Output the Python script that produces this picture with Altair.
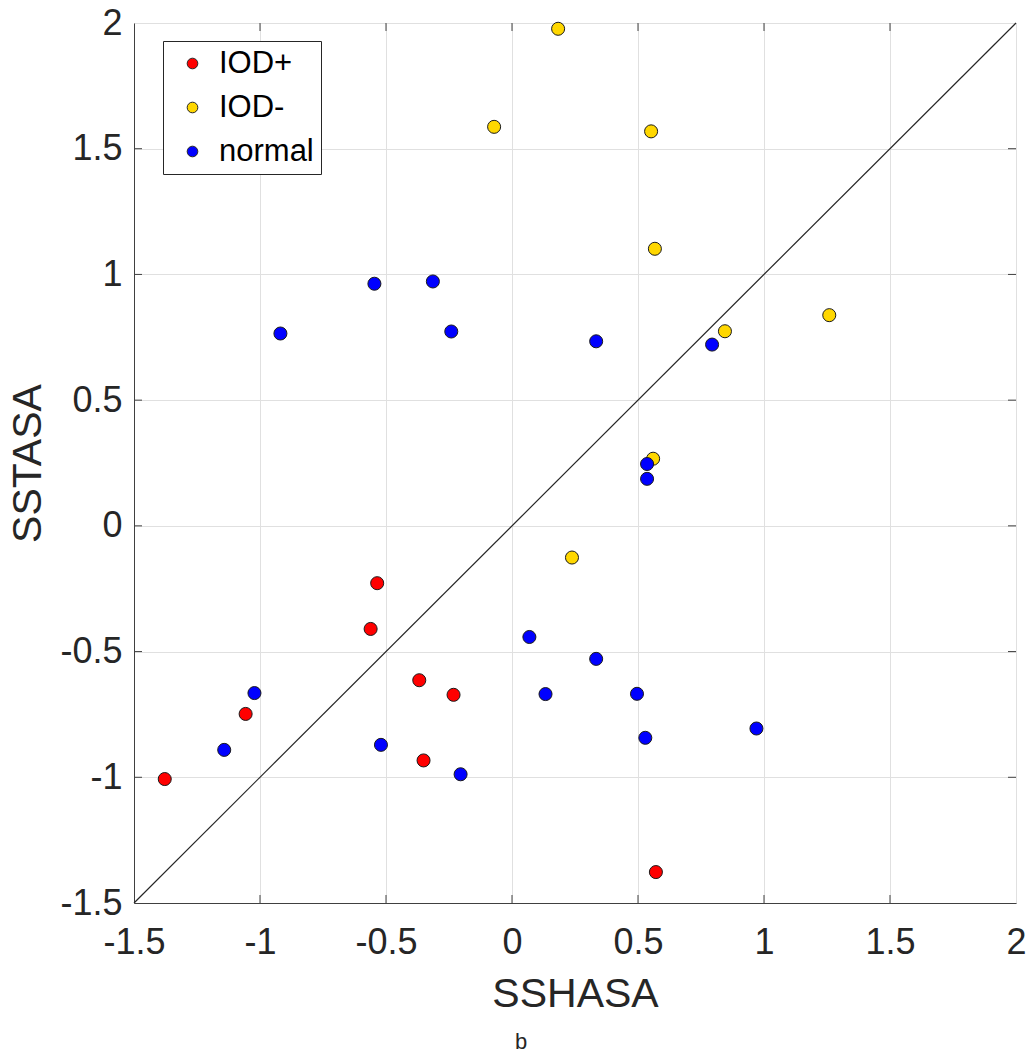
import altair as alt
import pandas as pd

# ---- data ----
groups = ["IOD+", "IOD-", "normal"]
group_colors = ["#ff0000", "#ffd700", "#0000ff"]

iod_pos_x = [-1.378, -1.057, -0.561, -0.535, -0.368, -0.351, -0.232, 0.571]
iod_pos_y = [-1.007, -0.748, -0.410, -0.228, -0.614, -0.933, -0.672, -1.377]

iod_neg_x = [0.183, -0.071, 0.552, 0.567, 1.259, 0.845, 0.560, 0.238]
iod_neg_y = [1.977, 1.587, 1.569, 1.102, 0.838, 0.774, 0.267, -0.126]

normal_x = [-0.546, -0.314, -0.919, -0.241, 0.794, 0.334, 0.536, 0.536, 0.069,
            0.334, 0.133, 0.496, 0.529, 0.970, -1.022, -1.142, -0.520, -0.204]
normal_y = [0.963, 0.972, 0.765, 0.773, 0.721, 0.734, 0.246, 0.187, -0.442,
            -0.529, -0.669, -0.668, -0.843, -0.806, -0.665, -0.891, -0.871, -0.988]

tick_values = [-1.5, -1, -0.5, 0, 0.5, 1, 1.5, 2]
inner_ticks = [-1, -0.5, 0, 0.5, 1, 1.5]
diag = [-1.5, 2]
axis_range = [-1.5, 2]

rows = []
for g, xs, ys in [("IOD+", iod_pos_x, iod_pos_y),
                  ("IOD-", iod_neg_x, iod_neg_y),
                  ("normal", normal_x, normal_y)]:
    for xv, yv in zip(xs, ys):
        rows.append({"x": xv, "y": yv, "group": g})
df = pd.DataFrame(rows)
df_diag = pd.DataFrame({"x": diag, "y": diag})
df_ticks = pd.DataFrame({"t": inner_ticks})

W, H = 882, 880
FONT = "Liberation Sans"
TXT = "#262626"

xs = alt.Scale(domain=axis_range, nice=False, zero=False)
ys = alt.Scale(domain=axis_range, nice=False, zero=False)

x_axis = alt.Axis(values=tick_values, title="SSHASA", labelExpr="'' + datum.value",
                  labelFont=FONT, labelFontSize=36, labelColor=TXT,
                  labelFlush=False, labelOverlap=False, labelPadding=22,
                  ticks=False, tickSize=0,
                  titleFont=FONT, titleFontSize=41, titleFontWeight="normal",
                  titleColor=TXT, titleBaseline="alphabetic", titleY=103,
                  gridColor="#e0e0e0", gridWidth=1,
                  domainColor="#404040", domainWidth=1)
y_axis = alt.Axis(values=tick_values, title="SSTASA", labelExpr="'' + datum.value",
                  labelFont=FONT, labelFontSize=36, labelColor=TXT,
                  labelFlush=False, labelOverlap=False, labelPadding=12,
                  labelBaseline="middle",
                  ticks=False, tickSize=0,
                  titleFont=FONT, titleFontSize=41, titleFontWeight="normal",
                  titleColor=TXT, titleAngle=270, titleBaseline="middle",
                  titleAlign="center", titleX=-106, titleY=440,
                  gridColor="#e0e0e0", gridWidth=1,
                  domainColor="#404040", domainWidth=1)

base_axes = alt.Chart(df).mark_point(opacity=0).encode(
    x=alt.X("x:Q", scale=xs, axis=x_axis),
    y=alt.Y("y:Q", scale=ys, axis=y_axis),
)

diag_line = alt.Chart(df_diag).mark_line(color="#262626", strokeWidth=1.2).encode(
    x=alt.X("x:Q", scale=xs), y=alt.Y("y:Q", scale=ys)
)

tick_color = "#404040"
tb = alt.Chart(df_ticks).mark_rule(color=tick_color, strokeWidth=1).encode(
    x=alt.X("t:Q", scale=xs), y=alt.value(H), y2=alt.value(H - 8))
tt = alt.Chart(df_ticks).mark_rule(color=tick_color, strokeWidth=1).encode(
    x=alt.X("t:Q", scale=xs), y=alt.value(0), y2=alt.value(8))
tl = alt.Chart(df_ticks).mark_rule(color=tick_color, strokeWidth=1).encode(
    y=alt.Y("t:Q", scale=ys), x=alt.value(0), x2=alt.value(8))
tr = alt.Chart(df_ticks).mark_rule(color=tick_color, strokeWidth=1).encode(
    y=alt.Y("t:Q", scale=ys), x=alt.value(W), x2=alt.value(W - 8))

points = alt.Chart(df).mark_circle(size=170, opacity=1, stroke="#1a1a1a",
                                   strokeWidth=1).encode(
    x=alt.X("x:Q", scale=xs),
    y=alt.Y("y:Q", scale=ys),
    color=alt.Color("group:N",
                    scale=alt.Scale(domain=groups, range=group_colors),
                    legend=alt.Legend(
                        title=None, orient="none", legendX=29, legendY=18,
                        direction="vertical",
                        fillColor="white", strokeColor="#262626",
                        padding=7, symbolOffset=7, labelOffset=11,
                        rowPadding=12, symbolType="circle", symbolSize=113,
                        symbolStrokeColor="#262626", symbolStrokeWidth=1,
                        symbolOpacity=1,
                        labelFont=FONT, labelFontSize=31, labelColor="black")),
)

chart = alt.layer(base_axes, diag_line, tb, tt, tl, tr, points).properties(
    width=W, height=H,
    autosize=alt.AutoSizeParams(type="none"),
    padding={"left": 134, "top": 23, "right": 12, "bottom": 153},
    title=alt.TitleParams("b", orient="bottom", anchor="middle", fontSize=22,
                          fontWeight="normal", font=FONT, color=TXT,
                          dx=-54, offset=18),
).configure_view(stroke="#404040", strokeWidth=1).configure(background="white")

chart.save("out.html", embed_options={"renderer": "svg", "actions": False})
